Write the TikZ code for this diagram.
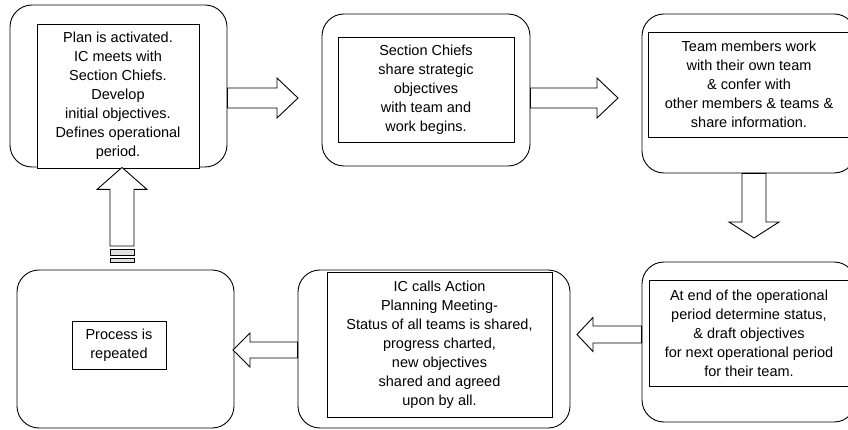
\documentclass[tikz,border=0pt]{standalone}
\usepackage{fontspec}
\setmainfont{Liberation Sans}
\usetikzlibrary{calc,positioning}

\begin{document}
\begin{tikzpicture}[x=1pt,y=-1pt,line width=0.9pt,
  fat shaft/.store in=\fatshaft, fat shaft=10pt,
  fat head/.store in=\fathead, fat head=20pt,
  fat len/.store in=\fatlen, fat len=21pt]
  \tikzstyle{stage}=[draw,rounded corners=22pt,inner sep=0pt]
  \tikzstyle{note}=[draw,fill=white,align=center,inner sep=0pt,font=\fontsize{14.5}{19}\selectfont]
  \tikzstyle{fat arrow}=[draw,fill=white,line join=miter,to path={
    let \p1=($(\tikztotarget)!\fatlen!(\tikztostart)$) in
    ($(\tikztostart)!\fatshaft!90:(\tikztotarget)$)
    -- ($(\p1)!\fatshaft!-90:(\tikztostart)$)
    -- ($(\p1)!\fathead!-90:(\tikztostart)$)
    -- (\tikztotarget)
    -- ($(\p1)!\fathead!90:(\tikztostart)$)
    -- ($(\p1)!\fatshaft!90:(\tikztostart)$)
    -- ($(\tikztostart)!\fatshaft!-90:(\tikztotarget)$)
    -- cycle}]
  \tikzstyle{stripe}=[draw,fill=gray!25,line width=0.7pt]

  \useasboundingbox (0,0) rectangle (848,430);
  \clip (0,0) rectangle (848,430);

  % outer stages
  \node[stage,minimum width=217pt,minimum height=162pt] (p1) at (118.5,86) {};
  \node[stage,minimum width=208pt,minimum height=152pt] (p2) at (426,90) {};
  \node[stage,minimum width=214pt,minimum height=159pt] (p3) at (749,93.5) {};
  \node[stage,minimum width=214pt,minimum height=160pt] (p4) at (749,342) {};
  \node[stage,minimum width=272pt,minimum height=158pt] (p5) at (434,349) {};
  \node[stage,minimum width=217pt,minimum height=158pt] (p6) at (125.5,349) {};

  % text boxes
  \node[note,minimum width=162pt,minimum height=144pt] (p1txt) at (118,96)
    {Plan is activated.\\IC meets with\\Section Chiefs.\\Develop\\initial objectives.\\Defines operational\\period.};
  \node[note,minimum width=176pt,minimum height=105pt] (p2txt) at (426,89.5)
    {Section Chiefs\\share strategic\\objectives\\with team and\\work begins.};
  \node[note,minimum width=202pt,minimum height=105pt] (p3txt) at (749,84.5)
    {Team members work\\with their own team\\\& confer with\\other members \& teams \&\\share information.};
  \node[note,minimum width=200pt,minimum height=106pt] (p4txt) at (749,333)
    {At end of the operational\\period determine status,\\\& draft objectives\\for next operational period\\for their team.};
  \node[note,minimum width=225pt,minimum height=145pt] (p5txt) at (439.5,344.5)
    {IC calls Action\\Planning Meeting-\\Status of all teams is shared,\\progress charted,\\new objectives\\shared and agreed\\upon by all.};
  \node[note,minimum width=94pt,minimum height=48pt] (p6txt) at (119,345)
    {Process is\\repeated};

  % block arrows
  \coordinate (tip12) at (298,98);
  \coordinate (tip23) at (618,98);
  \coordinate (tip34) at (754,238);
  \coordinate (tip45) at (577,334.5);
  \coordinate (tip56) at (233,350);
  \coordinate (tail61) at (122,246);

  \draw[fat arrow] (p1.east |- tip12) to (tip12);
  \draw[fat arrow] (p2.east |- tip23) to (tip23);
  \draw[fat arrow,fat shaft=12pt,fat head=25pt,fat len=16pt] (p3.south -| tip34) to (tip34);
  \draw[fat arrow,fat shaft=8.5pt,fat head=17pt,fat len=16pt] (p4.west |- tip45) to (tip45);
  \draw[fat arrow,fat shaft=8pt,fat head=17pt,fat len=17pt] (p5.west |- tip56) to (tip56);
  \draw[fat arrow,fat shaft=12pt,fat head=25pt,fat len=22pt] (tail61) to (p1.south -| tail61);
  \draw[stripe] ($(tail61)+(-12,3)$) rectangle ($(tail61)+(12,9)$);
  \draw[stripe] ($(tail61)+(-12,12)$) rectangle ($(tail61)+(12,16)$);
\end{tikzpicture}
\end{document}
